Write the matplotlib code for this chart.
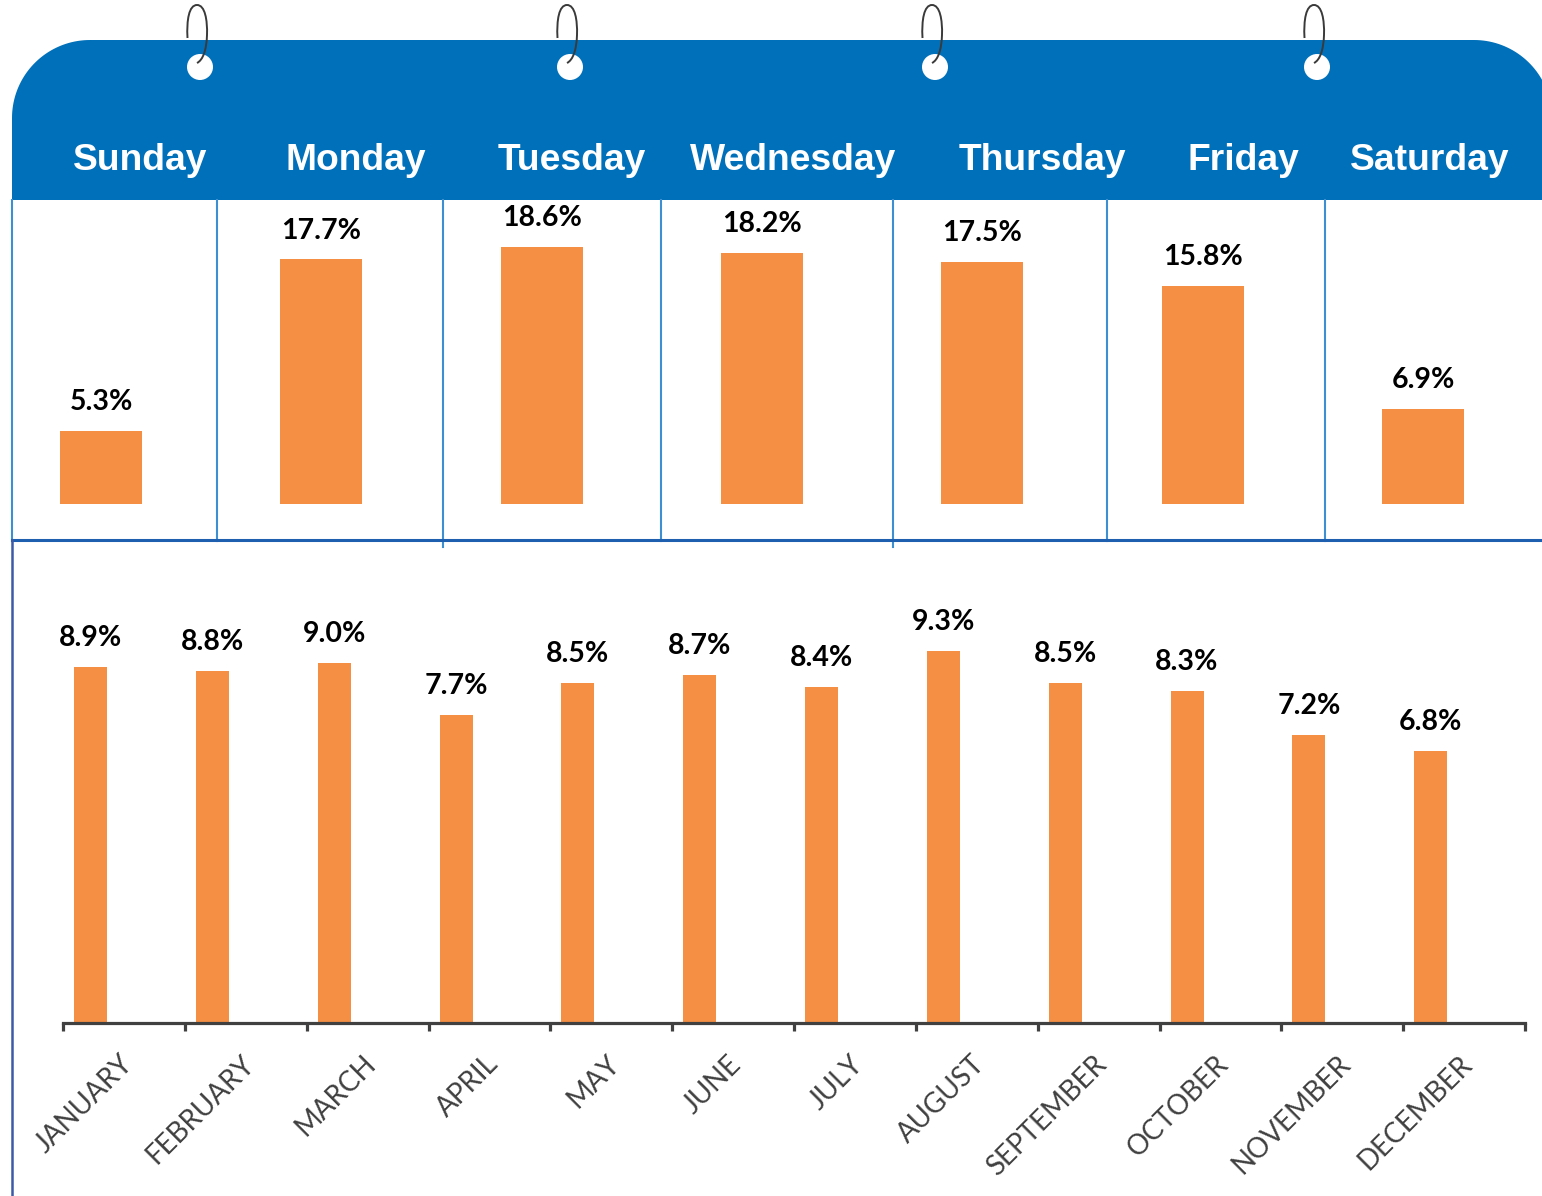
import numpy as np
import matplotlib.pyplot as plt
from matplotlib.patches import Polygon, Circle, PathPatch
from matplotlib.path import Path

# data
days = ['Sunday', 'Monday', 'Tuesday', 'Wednesday', 'Thursday', 'Friday', 'Saturday']
day_share = [5.3, 17.7, 18.6, 18.2, 17.5, 15.8, 6.9]

months = ['JANUARY', 'FEBRUARY', 'MARCH', 'APRIL', 'MAY', 'JUNE', 'JULY',
          'AUGUST', 'SEPTEMBER', 'OCTOBER', 'NOVEMBER', 'DECEMBER']
month_share = [8.9, 8.8, 9.0, 7.7, 8.5, 8.7, 8.4, 9.3, 8.5, 8.3, 7.2, 6.8]

# layout (pixels, top-left origin)
W, H = 1542, 1196
day_label_x = [140, 356, 572, 793, 1042, 1243, 1430]
divider_x = [12, 217, 443, 661, 893, 1107, 1325]
divider_end = [541, 541, 547, 541, 547, 541, 541]
ring_x = [200, 570, 935, 1317]

BLUE = '#0070BA'
ORANGE = '#F58F43'
GREY = '#404040'

fig = plt.figure(figsize=(W / 100, H / 100), dpi=100)
bg = fig.add_axes([0, 0, 1, 1])
bg.set_xlim(0, W)
bg.set_ylim(H, 0)
bg.axis('off')


def px_rect(x0, y0, x1, y1):
    return [x0 / W, 1 - y1 / H, (x1 - x0) / W, (y1 - y0) / H]


# calendar header with rounded top corners
r = 78
t1 = np.linspace(np.pi, np.pi / 2, 40)
t2 = np.linspace(np.pi / 2, 0, 40)
left_arc = np.c_[12 + r + r * np.cos(t1), 40 + r - r * np.sin(t1)]
right_arc = np.c_[1474 + r * np.cos(t2), 40 + r - r * np.sin(t2)]
header = np.vstack([[[12, 200]], left_arc, right_arc, [[1552, 200]]])
bg.add_patch(Polygon(header, closed=True, facecolor=BLUE, edgecolor='none'))

# binder holes and wire loops
for x in ring_x:
    bg.add_patch(Circle((x, 67), 13, facecolor='white', edgecolor='none'))
    verts = [(x - 12.5, 38),
             (x - 13.5, 20), (x - 11, 5), (x - 3, 5),
             (x + 5, 5), (x + 7.5, 20), (x + 7, 35),
             (x + 6.5, 50), (x + 3, 60), (x - 3, 63)]
    codes = [Path.MOVETO] + [Path.CURVE4] * 9
    bg.add_patch(PathPatch(Path(verts, codes), facecolor='none',
                           edgecolor='#3a3a3a', lw=1.4))

for name, x in zip(days, day_label_x):
    bg.text(x, 160, name, color='white', fontsize=26.8, fontweight='bold',
            family='Liberation Sans', ha='center', va='center')

# table lines
for x, ye in zip(divider_x, divider_end):
    bg.plot([x, x], [200, ye], color='#3D8FD1', lw=1.5)
bg.plot([12, W], [540, 540], color='#1E5FAF', lw=2.2)
bg.plot([12, 12], [540, H], color='#3D5AA8', lw=1.8)

# weekday bars
ax1 = fig.add_axes(px_rect(12, 200, 1542, 540))
ax1.set_xlim(-0.404, 6.540)
ax1.set_ylim(-2.605, 22.0)
ax1.axis('off')
xd = np.arange(len(days))
ax1.bar(xd, day_share, width=0.372, color=ORANGE, linewidth=0)
for x, v in zip(xd, day_share):
    ax1.annotate(f'{v:.1f}%', (x, v), xytext=(0, 15), textcoords='offset points',
                 ha='center', va='baseline', fontsize=20.5, fontweight='bold',
                 family='Lato', color='black')

# month bars
ax2 = fig.add_axes(px_rect(63, 560, 1525, 1023))
ax2.patch.set_alpha(0)
ax2.set_xlim(-0.5, 11.5)
ax2.set_ylim(0, 11.575)
xm = np.arange(len(months))
ax2.bar(xm - 0.274, month_share, width=0.271, color=ORANGE, linewidth=0)
for x, v in zip(xm, month_share):
    ax2.annotate(f'{v:.1f}%', (x - 0.274, v), xytext=(0, 15), textcoords='offset points',
                 ha='center', va='baseline', fontsize=20.5, fontweight='bold',
                 family='Lato', color='black')
for s in ['top', 'left', 'right']:
    ax2.spines[s].set_visible(False)
ax2.spines['bottom'].set_color(GREY)
ax2.spines['bottom'].set_linewidth(2.3)
ax2.set_yticks([])
ax2.set_xticks(np.arange(13) - 0.5)
ax2.set_xticklabels([])
ax2.tick_params(axis='x', length=6, width=2.3, color=GREY, direction='out')
for x, m in zip(xm, months):
    ax2.text(x - 0.04, -0.06, m, transform=ax2.get_xaxis_transform(),
             rotation=45, rotation_mode='anchor', ha='right', va='top',
             fontsize=20, family='Lato', color=GREY)

fig.savefig('out.png', dpi=100)
